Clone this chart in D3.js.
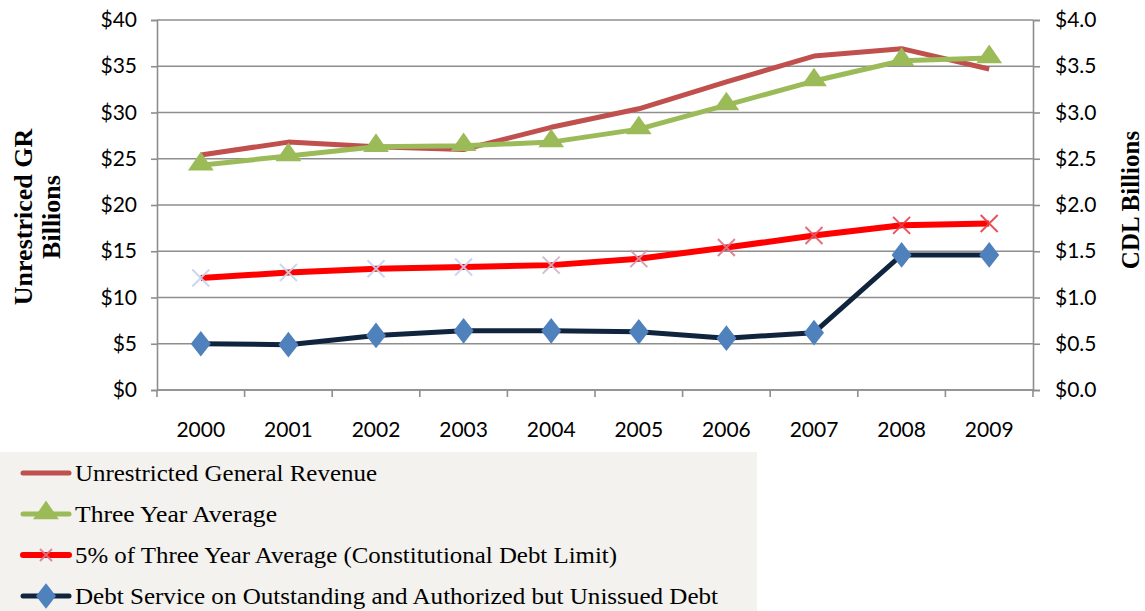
<!DOCTYPE html>
<html><head><meta charset="utf-8">
<script src="https://cdn.jsdelivr.net/npm/d3@7"></script>
<style>body{margin:0;background:#fff}svg{display:block}</style>
</head><body><svg id="c" width="1145" height="611"></svg>
<script>
const years = ["2000","2001","2002","2003","2004","2005","2006","2007","2008","2009"];
const revenue = [25.4, 26.8, 26.3, 26.0, 28.4, 30.4, 33.3, 36.1, 36.9, 34.7];
const threeYearAvg = [24.3, 25.3, 26.3, 26.4, 26.8, 28.2, 30.8, 33.4, 35.6, 35.9];
const debtLimit = [1.21, 1.27, 1.31, 1.33, 1.35, 1.42, 1.54, 1.67, 1.78, 1.80];
const debtService = [0.50, 0.49, 0.59, 0.64, 0.64, 0.63, 0.56, 0.62, 1.46, 1.46];
const leftTicks = [0,5,10,15,20,25,30,35,40];
const rightTicks = [0,0.5,1,1.5,2,2.5,3,3.5,4];
const legendLabels = ["Unrestricted General Revenue","Three Year Average","5% of Three Year Average (Constitutional Debt Limit)","Debt Service on Outstanding and Authorized but Unissued Debt"];

const svg = d3.select("#c");
const L = 157, R = 1033, T = 20, B = 390;
const x = d3.scaleBand().domain(years).range([L, R]);
const yL = d3.scaleLinear().domain([0,40]).range([B, T]);
const yR = d3.scaleLinear().domain([0,4]).range([B, T]);
const cx = d => x(d) + x.bandwidth()/2;
const grid = "#8e8e8e";
const tickFont = "Lato, 'Open Sans', sans-serif";

// gridlines
svg.append("g").selectAll("line").data(leftTicks).join("line")
  .attr("x1", L).attr("x2", R).attr("y1", d => yL(d)).attr("y2", d => yL(d))
  .attr("stroke", grid).attr("stroke-width", 1.6);

// left axis
const gl = svg.append("g").attr("transform", `translate(${L},0)`)
  .call(d3.axisLeft(yL).tickValues(leftTicks).tickSize(6).tickPadding(14).tickFormat(d => "$" + d));
// right axis
const gr = svg.append("g").attr("transform", `translate(${R},0)`)
  .call(d3.axisRight(yR).tickValues(rightTicks).tickSize(7).tickPadding(15).tickFormat(d => "$" + d3.format(".1f")(d)));
// bottom axis
const gb = svg.append("g").attr("transform", `translate(0,${B})`)
  .call(d3.axisBottom(x).tickSize(0).tickPadding(32));
// bottom ticks at band boundaries
svg.append("g").selectAll("line").data(d3.range(years.length + 1)).join("line")
  .attr("x1", i => L + i * x.step()).attr("x2", i => L + i * x.step())
  .attr("y1", B).attr("y2", B + 7).attr("stroke", grid).attr("stroke-width", 1.6);

[gl, gr, gb].forEach(g => {
  g.select(".domain").attr("stroke", grid).attr("stroke-width", 1.6);
  g.selectAll(".tick line").attr("stroke", grid).attr("stroke-width", 1.6);
  g.selectAll("text").attr("font-family", tickFont).attr("font-size", 21).attr("fill", "#000");
});
gb.select(".domain").remove();
svg.append("line").attr("x1", L).attr("x2", R).attr("y1", B).attr("y2", B).attr("stroke", grid).attr("stroke-width", 1.6);

// axis titles
const serif = "'Liberation Serif', 'Times New Roman', serif";
svg.append("text").attr("transform", "translate(32,217) rotate(-90)")
  .attr("text-anchor", "middle").attr("font-family", serif).attr("font-weight", "bold").attr("font-size", 26)
  .text("Unrestriced GR");
svg.append("text").attr("transform", "translate(60,217) rotate(-90)")
  .attr("text-anchor", "middle").attr("font-family", serif).attr("font-weight", "bold").attr("font-size", 26)
  .text("Billions");
svg.append("text").attr("transform", "translate(1139,200) rotate(-90)")
  .attr("text-anchor", "middle").attr("font-family", serif).attr("font-weight", "bold").attr("font-size", 25)
  .text("CDL Billions");

// series
const lineL = d3.line().x((d,i) => cx(years[i])).y(d => yL(d));
const lineR = d3.line().x((d,i) => cx(years[i])).y(d => yR(d));
const tri = d3.symbol().type(d3.symbolTriangle).size(200);
const dia = d3.symbol().type(d3.symbolDiamond).size(190);
const markerColor = i => d3.interpolateRgb("#c6d3ee", "#e8404a")(Math.max(0, Math.min(1, (i - 3) / 5)));

svg.append("path").datum(revenue).attr("d", lineL).attr("fill", "none").attr("stroke", "#c0504d").attr("stroke-width", 5).attr("stroke-linejoin", "round");

svg.append("path").datum(threeYearAvg).attr("d", lineL).attr("fill", "none").attr("stroke", "#9bbb59").attr("stroke-width", 5).attr("stroke-linejoin", "round");
svg.append("g").selectAll("path").data(threeYearAvg).join("path")
  .attr("transform", (d,i) => `translate(${cx(years[i])},${yL(d) - 1}) scale(1.2,1)`)
  .attr("d", tri).attr("fill", "#9bbb59");

svg.append("path").datum(debtLimit).attr("d", lineR).attr("fill", "none").attr("stroke", "#ff0000").attr("stroke-width", 6).attr("stroke-linejoin", "round");
svg.append("g").selectAll("path").data(debtLimit).join("path")
  .attr("d", (d,i) => { const px = cx(years[i]), py = yR(d), s = 8.5; return `M${px-s},${py-s}L${px+s},${py+s}M${px-s},${py+s}L${px+s},${py-s}`; })
  .attr("stroke", (d,i) => markerColor(i)).attr("stroke-width", 2).attr("opacity", 0.9);

svg.append("path").datum(debtService).attr("d", lineR).attr("fill", "none").attr("stroke", "#10243e").attr("stroke-width", 5).attr("stroke-linejoin", "round");
svg.append("g").selectAll("path").data(debtService).join("path")
  .attr("transform", (d,i) => `translate(${cx(years[i])},${yR(d)}) scale(1.35,1)`)
  .attr("d", dia).attr("fill", "#4f81bd");

// legend
svg.append("rect").attr("x", 0).attr("y", 452).attr("width", 757).attr("height", 159).attr("fill", "#f3f2ee");
const rowsY = [473, 514, 555, 596];
const lineCols = ["#c0504d", "#9bbb59", "#ff0000", "#10243e"];
const textWidths = [302, 202, 542, 643];
const lg = svg.append("g");
legendLabels.forEach((lab, i) => {
  const yy = rowsY[i];
  lg.append("line").attr("x1", 23).attr("x2", 69).attr("y1", yy).attr("y2", yy)
    .attr("stroke", lineCols[i]).attr("stroke-width", i === 2 ? 6 : 5).attr("stroke-linecap", "round");
  if (i === 1) lg.append("path").attr("transform", `translate(46,${yy - 1}) scale(1.2,1)`).attr("d", tri).attr("fill", "#9bbb59");
  if (i === 2) lg.append("path").attr("d", `M40,${yy-6}L52,${yy+6}M40,${yy+6}L52,${yy-6}`).attr("stroke", "#d07a92").attr("stroke-width", 2).attr("opacity", 0.85);
  if (i === 3) lg.append("path").attr("transform", `translate(46,${yy}) scale(1.35,1)`).attr("d", dia).attr("fill", "#4f81bd");
  lg.append("text").attr("x", 75).attr("y", yy + 8).attr("font-family", serif).attr("font-size", 24)
    .attr("textLength", textWidths[i]).attr("lengthAdjust", "spacingAndGlyphs")
    .attr("fill", "#000").text(lab);
});
</script></body></html>
